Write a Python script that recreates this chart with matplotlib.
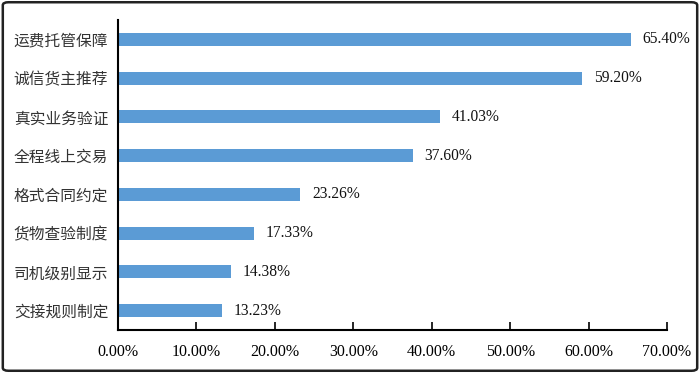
import matplotlib.pyplot as plt
from matplotlib.patches import FancyBboxPatch
import numpy as np

categories = ['运费托管保障', '诚信货主推荐', '真实业务验证', '全程线上交易',
              '格式合同约定', '货物查验制度', '司机级别显示', '交接规则制定']
values = [65.40, 59.20, 41.03, 37.60, 23.26, 17.33, 14.38, 13.23]
xticks = [0, 10, 20, 30, 40, 50, 60, 70]

cn_font = ['Noto Sans CJK SC', 'DejaVu Sans']
num_font = ['Liberation Serif', 'DejaVu Serif']

fig = plt.figure(figsize=(7, 3.73), dpi=100)
ax = fig.add_axes([118 / 700, 43 / 373, 549 / 700, 310 / 373])

y = np.arange(len(categories))[::-1]
ax.barh(y, values, height=0.34, color='#5B9BD5')
for yi, v in zip(y, values):
    ax.text(v + 1.5, yi, f'{v:.2f}%', va='center', ha='left',
            fontsize=11.2, family=num_font, color='#111111')

ax.set_xlim(0, 70)
ax.set_ylim(-0.5, 7.5)
ax.set_yticks(y)
ax.set_yticklabels(categories, family=cn_font, fontsize=11.3, color='#333333')
ax.tick_params(axis='y', length=0, pad=7)
ax.set_xticks(xticks)
ax.set_xticklabels([f'{t:.2f}%' for t in xticks], family=num_font, fontsize=11.5)
ax.tick_params(axis='x', direction='in', length=6, width=1.2, pad=10)
for s in ['top', 'right']:
    ax.spines[s].set_visible(False)
for s in ['left', 'bottom']:
    ax.spines[s].set_linewidth(1.5)

border = FancyBboxPatch((0.004, 0.006), 0.992, 0.988,
                        boxstyle='round,pad=0,rounding_size=0.008',
                        transform=fig.transFigure, fill=False,
                        edgecolor='#222222', linewidth=1.8)
fig.patches.append(border)

fig.savefig('out.png', dpi=100)
